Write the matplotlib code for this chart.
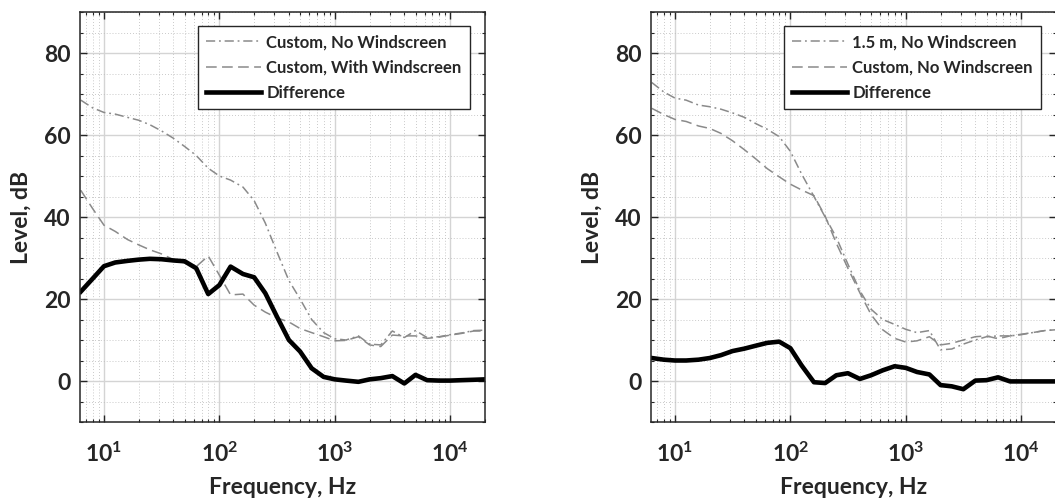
import numpy as np
import matplotlib
matplotlib.use('Agg')
import matplotlib.pyplot as plt
from matplotlib import ticker

plt.rcParams['font.family'] = ['Lato', 'DejaVu Sans']
plt.rcParams['font.weight'] = 'bold'
plt.rcParams['mathtext.fontset'] = 'custom'
plt.rcParams['mathtext.bf'] = 'Lato:bold'
plt.rcParams['mathtext.rm'] = 'Lato:bold'

# 1/3-octave band centre frequencies, Hz
freq = [6.3, 8, 10, 12.5, 16, 20, 25, 31.5, 40, 50, 63, 80, 100, 125, 160, 200,
        250, 315, 400, 500, 630, 800, 1000, 1250, 1600, 2000, 2500, 3150, 4000,
        5000, 6300, 8000, 10000, 12500, 16000, 20000]

# left panel
custom_no_ws = [68.5, 66.6, 65.5, 65.1, 64.3, 63.6, 62.5, 61.0, 59.2, 57.2, 55.0, 51.9,
                50.0, 49.0, 47.3, 44.0, 38.5, 31.5, 24.5, 20.0, 15.0, 11.8, 10.3, 10.0,
                11.0, 9.0, 8.8, 12.2, 10.6, 12.3, 10.6, 10.8, 11.3, 11.7, 12.3, 12.4]
custom_ws = [46.5, 42.0, 38.0, 36.5, 34.5, 33.2, 32.0, 31.0, 29.6, 28.8, 27.9, 30.5,
             25.8, 21.0, 21.2, 18.5, 16.8, 15.4, 14.4, 12.8, 11.8, 10.8, 9.8, 9.9,
             10.8, 8.8, 8.4, 11.2, 11.0, 11.0, 10.4, 10.7, 11.2, 11.6, 12.2, 12.2]
diff_left = [21.8, 25.0, 28.0, 28.9, 29.3, 29.6, 29.8, 29.7, 29.4, 29.2, 27.5, 21.2,
             23.4, 27.9, 26.1, 25.3, 21.4, 15.7, 10.0, 7.2, 3.1, 1.0, 0.4, 0.1,
             -0.2, 0.4, 0.7, 1.2, -0.6, 1.5, 0.2, 0.1, 0.1, 0.2, 0.3, 0.4]

# right panel
ref_15m = [72.8, 70.5, 69.0, 68.5, 67.3, 66.9, 66.3, 65.4, 64.3, 62.8, 61.4, 59.6,
           56.0, 50.5, 45.0, 40.0, 35.0, 28.5, 22.0, 17.5, 15.0, 13.8, 12.6, 11.8,
           12.3, 7.6, 7.8, 9.0, 10.0, 10.8, 11.0, 11.0, 11.3, 11.8, 12.3, 12.5]
custom_no_ws_r = [66.5, 65.0, 63.8, 63.3, 62.2, 61.6, 60.4, 58.6, 56.4, 54.2, 51.8, 49.8,
                  48.0, 46.6, 45.2, 40.2, 33.6, 27.5, 21.5, 16.2, 12.5, 10.4, 9.5, 9.8,
                  10.8, 8.8, 9.2, 10.0, 10.8, 11.0, 10.3, 11.0, 11.4, 11.8, 12.3, 12.5]
diff_right = [5.6, 5.2, 5.0, 5.0, 5.2, 5.6, 6.3, 7.3, 7.9, 8.6, 9.3, 9.6,
              8.0, 3.8, -0.3, -0.5, 1.4, 1.9, 0.5, 1.4, 2.6, 3.6, 3.2, 2.2,
              1.6, -1.0, -1.3, -2.0, 0.1, 0.2, 0.9, -0.1, -0.1, -0.1, -0.1, -0.1]

GRAY = '#8a8a8a'
TXT = '#262626'


def panel(ax, dashdot, dashed, diff, labels):
    ax.semilogx(freq, dashdot, color=GRAY, lw=1.1, dashes=[6, 2.5, 1.2, 2.5], label=labels[0])
    ax.semilogx(freq, dashed, color=GRAY, lw=1.1, dashes=[7, 3.5], label=labels[1])
    ax.semilogx(freq, diff, color='black', lw=3.3, label=labels[2])
    ax.set_xlim(6.2, 20000)
    ax.set_ylim(-10, 90)
    ax.set_yticks([0, 20, 40, 60, 80])
    ax.yaxis.set_minor_locator(ticker.MultipleLocator(5))
    ax.xaxis.set_major_locator(ticker.FixedLocator([10, 100, 1000, 10000]))
    ax.xaxis.set_major_formatter(ticker.FuncFormatter(
        lambda v, p: r'$\mathbf{10^{%d}}$' % round(np.log10(v))))
    ax.xaxis.set_minor_locator(ticker.LogLocator(base=10, subs=np.arange(2, 10), numticks=20))
    ax.xaxis.set_minor_formatter(ticker.NullFormatter())
    ax.grid(which='major', color='#d4d4d4', lw=1.0, ls='-')
    ax.grid(which='minor', color='#b8b8b8', lw=0.6, ls=(0, (1, 2.5)))
    ax.set_axisbelow(True)
    ax.tick_params(which='both', direction='in', top=True, right=True, colors=TXT)
    ax.tick_params(which='major', length=5, width=1.0, labelsize=16.5)
    ax.tick_params(which='minor', length=2.5, width=0.8)
    ax.tick_params(axis='x', which='major', pad=14)
    ax.tick_params(axis='y', which='major', pad=7)
    for s in ax.spines.values():
        s.set_color(TXT)
        s.set_linewidth(1.1)
    ax.set_xlabel('Frequency, Hz', fontsize=16.5, fontweight='bold', color=TXT)
    ax.set_ylabel('Level, dB', fontsize=16.5, fontweight='bold', color=TXT)
    ax.xaxis.set_label_coords(0.5, -0.16)
    ax.xaxis.label.set_va('center')
    ax.yaxis.set_label_coords(-0.145, 0.5)
    ax.yaxis.label.set_va('center')
    leg = ax.legend(loc='upper right', bbox_to_anchor=(0.963, 0.966), borderaxespad=0,
                    fontsize=12, handlelength=3.3, handletextpad=0.3,
                    labelspacing=0.55, borderpad=0.5, fancybox=False, framealpha=1,
                    edgecolor=TXT)
    leg.get_frame().set_linewidth(1.0)
    for t in leg.get_texts():
        t.set_fontweight('bold')
        t.set_color(TXT)


fig = plt.figure(figsize=(10.55, 5.03), dpi=100)
ax1 = fig.add_axes([80 / 1055, 81 / 503, 405 / 1055, 410 / 503])
ax2 = fig.add_axes([651 / 1055, 81 / 503, 405 / 1055, 410 / 503])

panel(ax1, custom_no_ws, custom_ws, diff_left,
      ['Custom, No Windscreen', 'Custom, With Windscreen', 'Difference'])
panel(ax2, ref_15m, custom_no_ws_r, diff_right,
      ['1.5 m, No Windscreen', 'Custom, No Windscreen', 'Difference'])

fig.savefig('out.png', dpi=100)
